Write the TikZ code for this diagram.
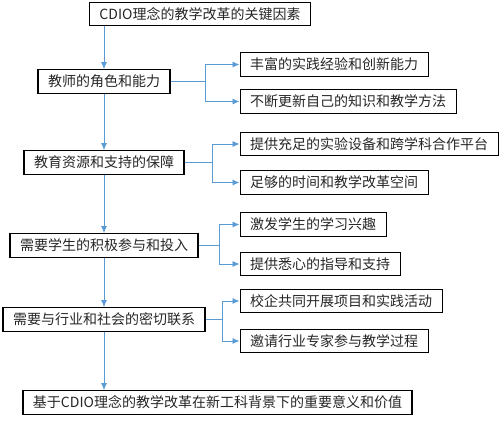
\documentclass[tikz,border=0pt]{standalone}
\usepackage{fontspec}
\setmainfont{Noto Sans CJK SC}
\usetikzlibrary{arrows.meta}
\usetikzlibrary{calc}
\definecolor{linkblue}{RGB}{91,155,213}
\tikzset{
	boxnode/.style = {
		rectangle,
		draw=black,
		line width=1.2pt,
		inner xsep=10pt,
		inner ysep=0pt,
		minimum height=23.5pt,
		text=black!85,
		font=\fontsize{14}{16}\selectfont
	},
	node_main/.style = {
		boxnode,
		anchor=center
	},
	node_sub/.style = {
		boxnode,
		anchor=west
	},
	link/.style = {
		draw=linkblue,
		line width=0.9pt
	},
}

\begin{document}
\begin{tikzpicture}[x=1pt,y=-1pt,->,>={Latex[length=7pt,width=6pt]}]
\useasboundingbox (0,0) rectangle (500,420);
% main column
\node [boxnode] (top) at (200,14) {CDIO理念的教学改革的关键因素};
\node [node_main] (m1) at (104,81.5) {教师的角色和能力};
\node [node_main] (m2) at (104,162.5) {教育资源和支持的保障};
\node [node_main] (m3) at (104,245.5) {需要学生的积极参与和投入};
\node [node_main] (m4) at (104,319.5) {需要与行业和社会的密切联系};
\node [boxnode] (bottom) at (217.5,402.5) {基于CDIO理念的教学改革在新工科背景下的重要意义和价值};
% right column
\node [node_sub] (s11) at (239.5,64.5) {丰富的实践经验和创新能力};
\node [node_sub] (s12) at (239.5,101.5) {不断更新自己的知识和教学方法};
\node [node_sub] (s21) at (239.5,144) {提供充足的实验设备和跨学科合作平台};
\node [node_sub] (s22) at (239.5,182.5) {足够的时间和教学改革空间};
\node [node_sub] (s31) at (239.5,224.5) {激发学生的学习兴趣};
\node [node_sub] (s32) at (239.5,264) {提供悉心的指导和支持};
\node [node_sub] (s41) at (239.5,301) {校企共同开展项目和实践活动};
\node [node_sub] (s42) at (239.5,341) {邀请行业专家参与教学过程};
% spine
\draw [link] (top.south -| m1) -- (m1.north);
\draw [link] (m1.south) -- (m2.north);
\draw [link] (m2.south) -- (m3.north);
\draw [link] (m3.south) -- (m4.north);
\draw [link] (m4.south) -- (m4.south |- bottom.north);
% branches
\foreach \m/\a/\b in {m1/s11/s12, m2/s21/s22, m3/s31/s32, m4/s41/s42} {
	\coordinate (j) at ($(\m.east)!.5!(\m.east -| \a.west)$);
	\draw [link] (\m.east) -- (j) |- (\a.west);
	\draw [link] (j) |- (\b.west);
}
\end{tikzpicture}
\end{document}
